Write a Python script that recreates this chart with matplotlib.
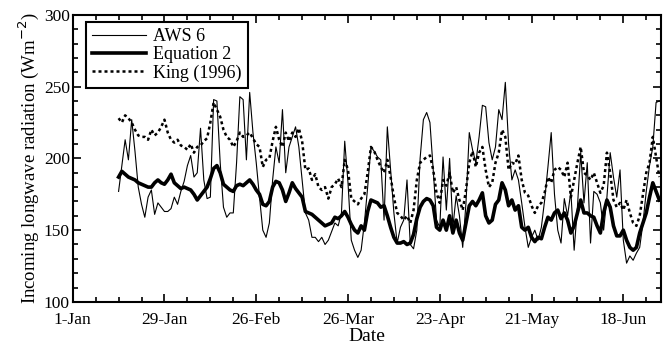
import numpy as np
import matplotlib
matplotlib.use('Agg')
import matplotlib.pyplot as plt
from matplotlib.ticker import MultipleLocator

plt.rcParams['font.family'] = ['Liberation Serif', 'DejaVu Serif']

# day of year (1-Jan = 0)
days = list(range(14, 180))

aws6 = [177, 195, 213, 199, 227, 205, 180, 168, 159, 173, 178, 161, 169, 166, 163, 163,
        165, 173, 168, 177, 184, 195, 202, 187, 190, 221, 185, 172, 173, 241, 240, 197,
        166, 159, 162, 162, 197, 243, 241, 199, 246, 218, 197, 173, 150, 145, 155, 185,
        208, 197, 234, 190, 208, 215, 222, 208, 185, 162, 157, 145, 145, 142, 145, 140,
        143, 149, 155, 153, 162, 212, 183, 143, 136, 131, 136, 155, 180, 208, 205, 201,
        199, 157, 222, 192, 162, 141, 152, 157, 185, 140, 137, 150, 200, 227, 232, 225,
        192, 157, 152, 201, 164, 200, 152, 174, 160, 138, 169, 218, 206, 197, 215, 237,
        236, 211, 199, 208, 234, 227, 253, 210, 185, 192, 185, 169, 152, 138, 145, 150,
        143, 152, 171, 194, 218, 175, 150, 141, 172, 160, 177, 136, 166, 204, 169, 197,
        141, 177, 175, 169, 150, 173, 204, 187, 173, 192, 143, 127, 132, 129, 134, 138,
        155, 177, 195, 208, 239, 240]

equation2 = [187, 191, 189, 187, 186, 185, 183, 182, 181, 180, 180, 183, 185, 183, 182, 185,
             189, 183, 181, 179, 180, 179, 178, 175, 171, 174, 177, 180, 186, 193, 195, 190,
             182, 180, 178, 177, 181, 182, 181, 183, 185, 182, 178, 175, 168, 167, 170, 180,
             184, 183, 178, 170, 176, 183, 179, 176, 173, 163, 162, 161, 159, 157, 155, 153,
             154, 155, 159, 158, 160, 163, 159, 154, 150, 148, 153, 150, 163, 171, 170, 169,
             166, 167, 160, 152, 145, 141, 141, 142, 140, 141, 147, 158, 166, 170, 172, 171,
             167, 152, 150, 157, 150, 160, 148, 157, 148, 143, 155, 167, 170, 167, 171, 176,
             160, 155, 157, 168, 171, 183, 178, 167, 171, 164, 167, 152, 150, 152, 145, 142,
             145, 144, 152, 159, 157, 162, 164, 158, 162, 157, 148, 153, 162, 171, 162, 162,
             160, 159, 153, 148, 162, 171, 166, 153, 146, 146, 150, 143, 138, 136, 138, 148,
             155, 162, 173, 183, 177, 171]

king1996 = [228, 225, 230, 228, 225, 220, 216, 215, 215, 213, 220, 216, 218, 222, 227, 218,
            213, 211, 213, 209, 208, 206, 210, 204, 208, 209, 212, 214, 225, 239, 234, 229,
            220, 215, 213, 208, 212, 218, 215, 216, 218, 214, 210, 208, 194, 199, 200, 212,
            222, 213, 208, 218, 212, 218, 215, 221, 212, 192, 193, 185, 189, 180, 178, 180,
            172, 180, 182, 186, 180, 199, 192, 172, 170, 168, 172, 175, 190, 208, 205, 199,
            194, 190, 199, 187, 173, 162, 160, 157, 160, 155, 164, 185, 197, 199, 201, 202,
            192, 176, 169, 185, 181, 190, 176, 180, 171, 164, 178, 197, 205, 194, 204, 208,
            192, 180, 183, 197, 204, 220, 215, 192, 197, 196, 202, 185, 176, 174, 167, 162,
            167, 169, 176, 187, 183, 192, 194, 192, 187, 197, 173, 185, 197, 208, 190, 188,
            185, 190, 183, 176, 181, 204, 190, 171, 166, 169, 164, 171, 162, 155, 153, 160,
            175, 190, 197, 215, 201, 187]

tick_days = [0, 28, 56, 84, 112, 140, 168]
tick_labels = ['1-Jan', '29-Jan', '26-Feb', '26-Mar', '23-Apr', '21-May', '18-Jun']

fig = plt.figure(figsize=(6.67, 3.47), dpi=100)
ax = fig.add_axes([0.109, 0.130, 0.882, 0.827])

ax.plot(days, aws6, color='black', lw=0.8, label='AWS 6')
ax.plot(days, equation2, color='black', lw=2.6, label='Equation 2')
ax.plot(days, king1996, color='black', lw=1.8, linestyle=(0, (1.2, 1.2)), label='King (1996)')

ax.set_xlim(0, 179.5)
ax.set_ylim(100, 300)
ax.set_xticks(tick_days)
ax.set_xticklabels(tick_labels)
ax.xaxis.set_minor_locator(MultipleLocator(7))
ax.yaxis.set_major_locator(MultipleLocator(50))
ax.yaxis.set_minor_locator(MultipleLocator(10))
ax.tick_params(which='both', direction='in', top=True, right=True, labelsize=12.5, width=1.2)
ax.tick_params(axis='x', which='major', pad=7)
ax.tick_params(axis='y', which='major', pad=2)
ax.tick_params(which='major', length=6)
ax.tick_params(which='minor', length=3.5)
for s in ax.spines.values():
    s.set_linewidth(1.5)

ax.set_xlabel('Date', fontsize=14, labelpad=0.5)
ax.set_ylabel('Incoming longwave radiation (Wm$^{-2}$)', fontsize=13.5, labelpad=2)

leg = ax.legend(loc='upper left', bbox_to_anchor=(0.022, 0.975), fontsize=13,
                fancybox=False, framealpha=1, edgecolor='black', handlelength=3.0,
                handletextpad=0.4, labelspacing=0.05, borderpad=0.35, borderaxespad=0)
leg.get_frame().set_linewidth(1.5)

fig.savefig('out.png', dpi=100)
